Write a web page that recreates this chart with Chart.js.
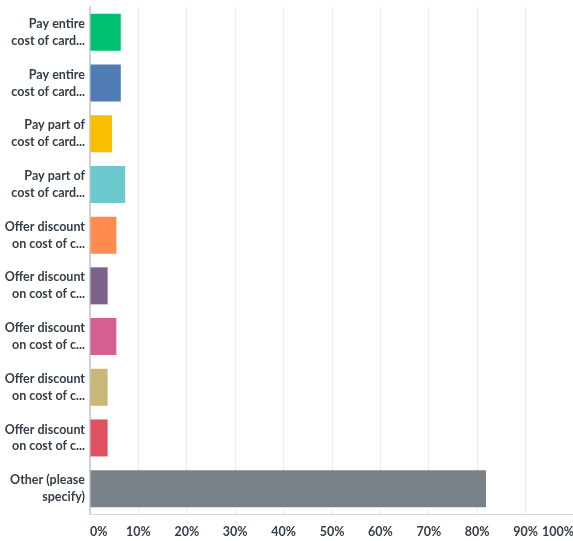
<!DOCTYPE html>
<html>
<head>
<meta charset="utf-8">
<script src="https://cdn.jsdelivr.net/npm/chart.js@4.4.1/dist/chart.umd.min.js"></script>
<style>
  html, body { margin: 0; padding: 0; background: #fff; overflow: hidden; }
  #wrap { width: 574px; height: 541px; }
</style>
</head>
<body>
<div id="wrap"><canvas id="chart"></canvas></div>
<script>
// answer choices (two-line labels, truncated like the survey export)
const answerLabels = [
  ['Pay entire', 'cost of card...'],
  ['Pay entire', 'cost of card...'],
  ['Pay part of', 'cost of card...'],
  ['Pay part of', 'cost of card...'],
  ['Offer discount', 'on cost of c...'],
  ['Offer discount', 'on cost of c...'],
  ['Offer discount', 'on cost of c...'],
  ['Offer discount', 'on cost of c...'],
  ['Offer discount', 'on cost of c...'],
  ['Other (please', 'specify)']
];
// share of respondents, percent
const responsePct = [6.36, 6.36, 4.55, 7.27, 5.45, 3.64, 5.45, 3.64, 3.64, 81.82];
const barColors = ['#00bf6f', '#507cb6', '#f9be00', '#6bc8cd', '#ff8b4f',
                   '#7f628b', '#d45f90', '#c8b777', '#df5061', '#798189'];
const xTicks = [0, 10, 20, 30, 40, 50, 60, 70, 80, 90, 100];

const labelFont = { family: 'Lato', size: 12.5, weight: '700', lineHeight: 1.35 };

const ctx = document.getElementById('chart').getContext('2d');
const chart = new Chart(ctx, {
  type: 'bar',
  data: {
    labels: answerLabels,
    datasets: [{
      data: responsePct,
      backgroundColor: barColors,
      borderWidth: 0,
      barPercentage: 0.73,
      categoryPercentage: 1
    }]
  },
  options: {
    indexAxis: 'y',
    responsive: true,
    maintainAspectRatio: false,
    animation: false,
    layout: { padding: { top: 7, left: 0, right: 0, bottom: 0 } },
    plugins: {
      legend: { display: false },
      tooltip: { enabled: false }
    },
    scales: {
      x: {
        min: 0,
        max: 100,
        afterBuildTicks: (scale) => {
          scale.ticks = xTicks.map(v => ({ value: v }));
        },
        afterFit: (scale) => {
          scale.height = 27;
          scale.paddingLeft = 0;
          scale.paddingRight = 0;
        },
        grid: { color: '#ececec', lineWidth: 1, drawTicks: false },
        border: { color: '#d6d6d6', width: 1 },
        ticks: {
          align: 'inner',
          padding: 10,
          maxRotation: 0,
          color: '#333e48',
          font: { family: 'Lato', size: 12.5, weight: '700' },
          callback: (v) => v + '%'
        }
      },
      y: {
        afterFit: (scale) => {
          scale.width = 90;
          scale.paddingTop = 0;
          scale.paddingBottom = 0;
        },
        grid: { display: false, drawTicks: false, tickLength: 0 },
        border: { color: '#d0d0d0', width: 2 },
        ticks: {
          padding: 5,
          color: '#333e48',
          font: labelFont
        }
      }
    }
  }
});
</script>
</body>
</html>
